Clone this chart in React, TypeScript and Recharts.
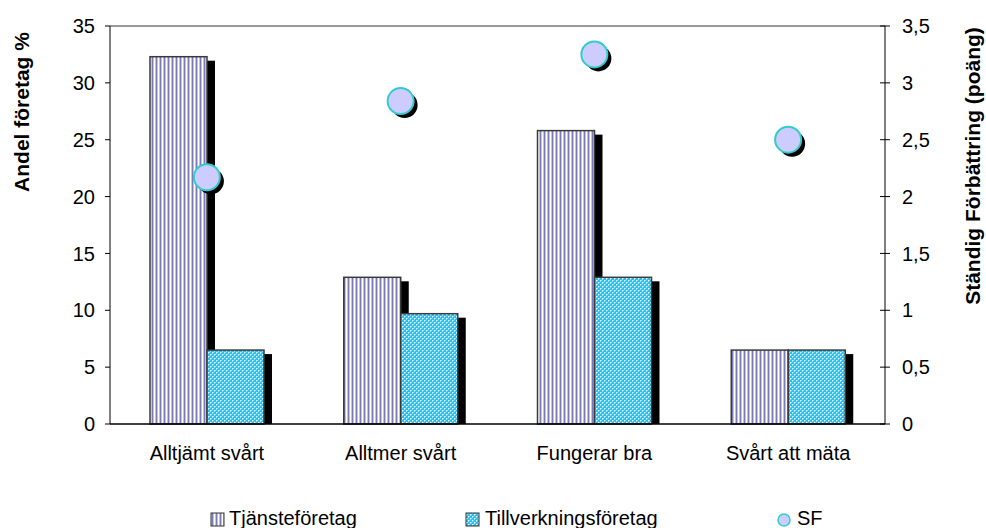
import React from "react";
import {
  ComposedChart,
  Bar,
  Scatter,
  XAxis,
  YAxis,
  ReferenceLine,
} from "recharts";

const categories = ["Alltjämt svårt", "Alltmer svårt", "Fungerar bra", "Svårt att mäta"];
const tjansteforetag = [32.3, 12.9, 25.8, 6.5];
const tillverkningsforetag = [6.5, 9.7, 12.9, 6.5];
const sfPoang = [2.17, 2.84, 3.25, 2.5];

const leftTicks = [0, 5, 10, 15, 20, 25, 30, 35];
const rightTicks = [0, 0.5, 1, 1.5, 2, 2.5, 3, 3.5];
const seriesNames = ["Tjänsteföretag", "Tillverkningsföretag", "SF"];

const data = categories.map((cat, i) => ({
  cat,
  tj: tjansteforetag[i],
  ti: tillverkningsforetag[i],
  sf: sfPoang[i],
}));

const FONT = "'Liberation Sans', Arial, sans-serif";
const TICK_FS = 20;
const RIGHT_TICK_SIZE = 5;
const RIGHT_TICK_MARGIN = 12;

const fmtComma = (v: number) => String(v).replace(".", ",");

// bar with a hard black drop shadow, like the old spreadsheet look
function ShadowBar(fill: string) {
  return (props: any) => {
    const { x, y, width, height } = props;
    if (!height || height <= 0) return null;
    return (
      <g>
        <rect x={x + 8} y={y + 4} width={width} height={Math.max(height - 4, 0)} fill="#000" />
        <rect x={x} y={y} width={width} height={height} fill={fill} stroke="#3a3a3a" strokeWidth={1.5} />
      </g>
    );
  };
}

function Bubble(props: any) {
  const { cx, cy } = props;
  if (cx == null || cy == null) return null;
  return (
    <g>
      <circle cx={cx + 4} cy={cy + 4} r={13} fill="#000" />
      <circle cx={cx} cy={cy} r={13} fill="#ccccff" stroke="#33cccc" strokeWidth={2} />
    </g>
  );
}

// right axis ticks cross the axis line
function RightTick(props: any) {
  const { x, y, payload } = props;
  const axisX = x - RIGHT_TICK_SIZE - RIGHT_TICK_MARGIN;
  return (
    <g>
      <line x1={axisX - 5} x2={axisX + 5} y1={y} y2={y} stroke="#000" />
      <text x={x} y={y} dy="0.355em" textAnchor="start" fontSize={TICK_FS} fontFamily={FONT} fill="#000">
        {fmtComma(payload.value)}
      </text>
    </g>
  );
}

const legendItems = [
  { name: seriesNames[0], iconX: 211, textX: 229, kind: "tj" },
  { name: seriesNames[1], iconX: 466, textX: 485, kind: "ti" },
  { name: seriesNames[2], iconX: 778, textX: 797, kind: "sf" },
];

export default function App() {
  return (
    <div style={{ position: "absolute", left: 0, top: 0, width: 986, height: 528, overflow: "hidden", background: "#fff" }}>
      <ComposedChart
        width={986}
        height={528}
        data={data}
        margin={{ top: 26, right: 0, left: 0, bottom: 0 }}
        barGap={0}
        style={{ fontFamily: FONT }}
      >
        <defs>
          <pattern id="patTj" width={4} height={4} patternUnits="userSpaceOnUse">
            <rect width={4} height={4} fill="#ffffff" />
            <rect x={0} width={1} height={4} fill="#7a7ab4" />
            <rect x={1} width={1} height={4} fill="#c2c2e2" />
            <rect x={3} width={1} height={4} fill="#c2c2e2" />
          </pattern>
          <pattern id="patTi" width={4} height={4} patternUnits="userSpaceOnUse">
            <rect width={4} height={4} fill="#22c4f4" />
            <rect x={0} y={0} width={1} height={1} fill="#ffffff" />
            <rect x={2} y={2} width={1} height={1} fill="#ffffff" />
            <rect x={1} y={0} width={1} height={1} fill="#8fe0fb" />
            <rect x={0} y={1} width={1} height={1} fill="#8fe0fb" />
            <rect x={3} y={2} width={1} height={1} fill="#8fe0fb" />
            <rect x={2} y={3} width={1} height={1} fill="#8fe0fb" />
          </pattern>
        </defs>
        <XAxis
          dataKey="cat"
          height={104}
          tickLine={false}
          tickSize={0}
          tickMargin={22}
          axisLine={{ stroke: "#000", strokeWidth: 1.5 }}
          tick={{ fontSize: TICK_FS, fill: "#000", fontFamily: FONT }}
        />
        <YAxis
          yAxisId="left"
          orientation="left"
          width={110}
          domain={[0, 35]}
          ticks={leftTicks}
          interval={0}
          tickSize={5}
          tickMargin={10}
          axisLine={{ stroke: "#000" }}
          tickLine={{ stroke: "#000" }}
          tick={{ fontSize: TICK_FS, fill: "#000", fontFamily: FONT }}
          label={{
            content: (p: any) => (
              <text
                x={p.viewBox.x + 29}
                y={p.viewBox.y + 86}
                transform={`rotate(-90 ${p.viewBox.x + 29} ${p.viewBox.y + 86})`}
                textAnchor="middle"
                fontSize={21}
                fontWeight="bold"
                fontFamily={FONT}
                fill="#000"
              >
                Andel företag %
              </text>
            ),
          }}
        />
        <YAxis
          yAxisId="right"
          orientation="right"
          width={101}
          domain={[0, 3.5]}
          ticks={rightTicks}
          interval={0}
          tickSize={RIGHT_TICK_SIZE}
          tickMargin={RIGHT_TICK_MARGIN}
          tickLine={false}
          axisLine={{ stroke: "#000" }}
          tick={<RightTick />}
          label={{
            content: (p: any) => (
              <text
                x={p.viewBox.x + 95}
                y={p.viewBox.y + 140}
                transform={`rotate(-90 ${p.viewBox.x + 95} ${p.viewBox.y + 140})`}
                textAnchor="middle"
                fontSize={21}
                fontWeight="bold"
                fontFamily={FONT}
                fill="#000"
              >
                Ständig Förbättring (poäng)
              </text>
            ),
          }}
        />
        <ReferenceLine yAxisId="left" y={35} stroke="#9a9a9a" strokeWidth={2} />
        <Bar
          yAxisId="left"
          dataKey="tj"
          name={seriesNames[0]}
          barSize={57}
          shape={ShadowBar("url(#patTj)")}
          isAnimationActive={false}
        />
        <Bar
          yAxisId="left"
          dataKey="ti"
          name={seriesNames[1]}
          barSize={57}
          shape={ShadowBar("url(#patTi)")}
          isAnimationActive={false}
        />
        <Scatter
          yAxisId="right"
          dataKey="sf"
          name={seriesNames[2]}
          shape={<Bubble />}
          isAnimationActive={false}
        />
      </ComposedChart>
      <svg width={986} height={528} style={{ position: "absolute", left: 0, top: 0, pointerEvents: "none" }}>
        {legendItems.map((it) => (
          <g key={it.name}>
            {it.kind === "sf" ? (
              <circle cx={it.iconX + 6} cy={520} r={6} fill="#ccccff" stroke="#33cccc" strokeWidth={1.5} />
            ) : (
              <rect
                x={it.iconX}
                y={513}
                width={13}
                height={13}
                fill={it.kind === "tj" ? "url(#patTj)" : "url(#patTi)"}
                stroke="#333"
              />
            )}
            <text x={it.textX} y={525} fontSize={20} fontFamily={FONT} fill="#000">
              {it.name}
            </text>
          </g>
        ))}
      </svg>
    </div>
  );
}
